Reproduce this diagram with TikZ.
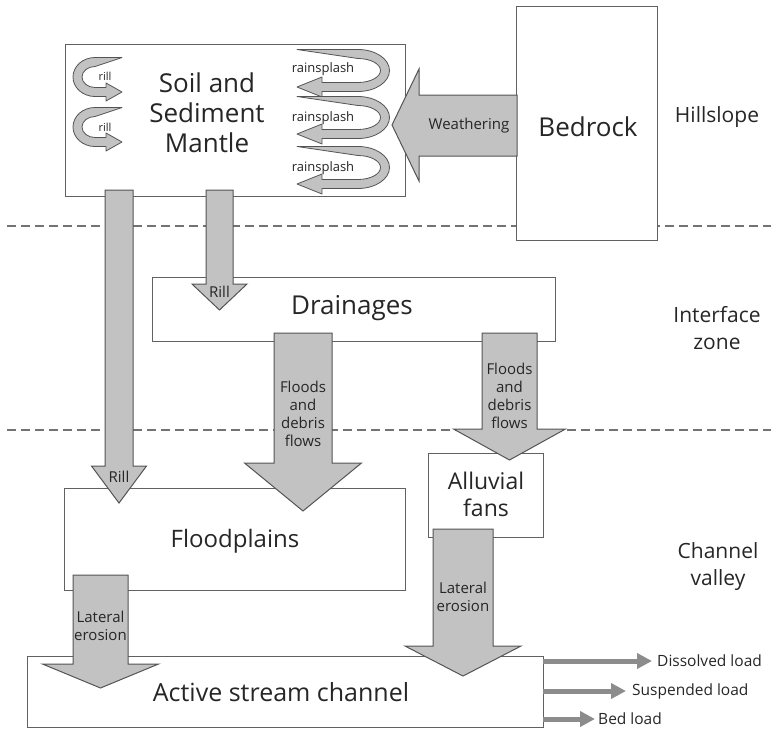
\documentclass[tikz,border=0pt]{standalone}
\usepackage{fontspec}
\setmainfont{Open Sans}
\usetikzlibrary{arrows.meta}
\definecolor{arrfill}{gray}{0.76}
\definecolor{arrline}{gray}{0.33}
\definecolor{boxline}{gray}{0.38}
\definecolor{txt}{gray}{0.15}
\definecolor{dashc}{gray}{0.45}
\definecolor{outc}{gray}{0.55}
\tikzset{
  box/.style={draw=boxline, line width=1.2pt, fill=white, inner sep=0pt, anchor=north west},
  blockarrow/.style={draw=arrline, fill=arrfill, line width=1pt, line join=miter},
  ribbon/.style={draw=arrline, fill=arrfill, line width=0.8pt, line join=round},
  zone/.style={dashc, line width=1.5pt, dash pattern=on 9pt off 5pt},
  outarr/.style={outc, line width=5pt, -{Triangle[width=15pt,length=15pt]}},
  big/.style={text=txt, font=\fontsize{26}{30}\selectfont, align=center},
  mid/.style={text=txt, font=\fontsize{21}{27}\selectfont, align=center},
  lbl/.style={text=txt, font=\fontsize{15}{18}\selectfont, align=center},
  small/.style={text=txt, font=\fontsize{13}{15}\selectfont},
  tiny/.style={text=txt, font=\fontsize{11}{13}\selectfont},
  outlbl/.style={text=txt, font=\fontsize{15.5}{18}\selectfont, anchor=west, inner sep=0pt}
}
\newcommand{\blockdown}[6]{%
  \draw[blockarrow] (#1-#3,#2) -- (#1+#3,#2) -- (#1+#3,#4) -- (#1+#5,#4) -- (#1,#6) -- (#1-#5,#4) -- (#1-#3,#4) -- cycle;}
\newcommand{\myribbon}[5]{%
  \filldraw[ribbon] (0,-4.5) -- (#1,-4.5)
    arc[start angle=-90,end angle=90,x radius=#2+4.5,y radius=#3+4.5]
    -- (#4,2*#3+4.5) -- (#4,2*#3+#5) -- (0,2*#3) -- (#4,2*#3-#5) -- (#4,2*#3-4.5) -- (#1,2*#3-4.5)
    arc[start angle=90,end angle=-90,x radius=#2-4.5,y radius=#3-4.5] -- cycle;}
\begin{document}
\begin{tikzpicture}[x=1pt,y=-1pt]
\useasboundingbox (0,0) rectangle (771,729);
% zone separators
\coordinate (d1a) at (7,226); \coordinate (d1b) at (771,226);
\coordinate (d2a) at (7,430); \coordinate (d2b) at (771,430);
\draw[zone] (d1a) -- (d1b);
\draw[zone] (d2a) -- (d2b);
% boxes
\node[box, minimum width=340pt, minimum height=152pt] (soil) at (65,44) {};
\node[box, minimum width=141pt, minimum height=234pt] (bedrock) at (516,6) {};
\node[box, minimum width=403pt, minimum height=64pt] (drain) at (152,277) {};
\node[box, minimum width=115pt, minimum height=84pt] (fans) at (428,453) {};
\node[box, minimum width=341pt, minimum height=102pt] (flood) at (64,488) {};
\node[box, minimum width=516pt, minimum height=71pt] (channel) at (27,656) {};
% box texts
\node[big] (soilt) at (207,113) {Soil and\\Sediment\\Mantle};
\node[big] (bedt) at (588,127) {Bedrock};
\node[big] (draint) at (352,308) {Drainages};
\node[big, font=\fontsize{23}{27}\selectfont] (fanst) at (486,494) {Alluvial\\fans};
\node[big, font=\fontsize{24}{29}\selectfont] (floodt) at (235,541) {Floodplains};
\node[big, font=\fontsize{25}{29}\selectfont] (chant) at (281,692) {Active stream channel};
% side labels
\node[mid] (hill) at (717,117) {Hillslope};
\node[mid] (inter) at (717,328) {Interface\\zone};
\node[mid] (valley) at (718,567) {Channel\\valley};
% weathering arrow
\draw[blockarrow] (517,95) -- (419,95) -- (419,69) -- (392,125) -- (419,181) -- (419,156) -- (517,156) -- cycle;
\node[lbl] (weath) at (469,126) {Weathering};
% vertical block arrows
\blockdown{119}{190}{14}{466}{27.5}{503}
\node[lbl] (rill1) at (119,477) {Rill};
\blockdown{219.5}{190}{13.5}{284}{27.5}{310}
\node[lbl] (rill2) at (219.5,292) {Rill};
\blockdown{303}{333}{29}{463}{58.5}{511}
\node[lbl] (fl1) at (303,414) {Floods\\and\\debris\\flows};
\blockdown{509.5}{333}{27.5}{429}{56}{460}
\node[lbl] (fl2) at (509.5,396) {Floods\\and\\debris\\flows};
\blockdown{100.5}{575}{27.5}{664}{58}{688}
\node[lbl] (lat1) at (100.5,626) {Lateral\\erosion};
\blockdown{463}{529}{30}{646}{58}{676}
\node[lbl] (lat2) at (463,597) {Lateral\\erosion};
% rill curls
\begin{scope}[shift={(122,62)}, xscale=-1]\myribbon{27}{17.5}{15}{16}{9}\end{scope}
\begin{scope}[shift={(122,112)}, xscale=-1]\myribbon{27}{17.5}{15}{16}{9}\end{scope}
\node[tiny] (r1) at (105,76) {rill};
\node[tiny] (r2) at (105,127) {rill};
% rainsplash curls
\begin{scope}[shift={(297,54)}]\myribbon{61}{27}{16.5}{25}{10}\end{scope}
\begin{scope}[shift={(297,101)}]\myribbon{61}{27}{16.5}{25}{10}\end{scope}
\begin{scope}[shift={(297,151)}]\myribbon{61}{27}{16.5}{25}{10}\end{scope}
\node[small] (s1) at (323,69) {rainsplash};
\node[small] (s2) at (323,118) {rainsplash};
\node[small] (s3) at (323,168) {rainsplash};
% output loads
\coordinate (o1) at (543,661); \coordinate (e1) at (652,661);
\coordinate (o2) at (543,691); \coordinate (e2) at (626,691);
\coordinate (o3) at (543,719); \coordinate (e3) at (595,719);
\draw[outarr] (o1) -- (e1);
\draw[outarr] (o2) -- (e2);
\draw[outarr] (o3) -- (e3);
\node[outlbl] (dl) at (657,661) {Dissolved load};
\node[outlbl] (sl) at (632,691) {Suspended load};
\node[outlbl] (bl) at (598,719) {Bed load};
\end{tikzpicture}
\end{document}
